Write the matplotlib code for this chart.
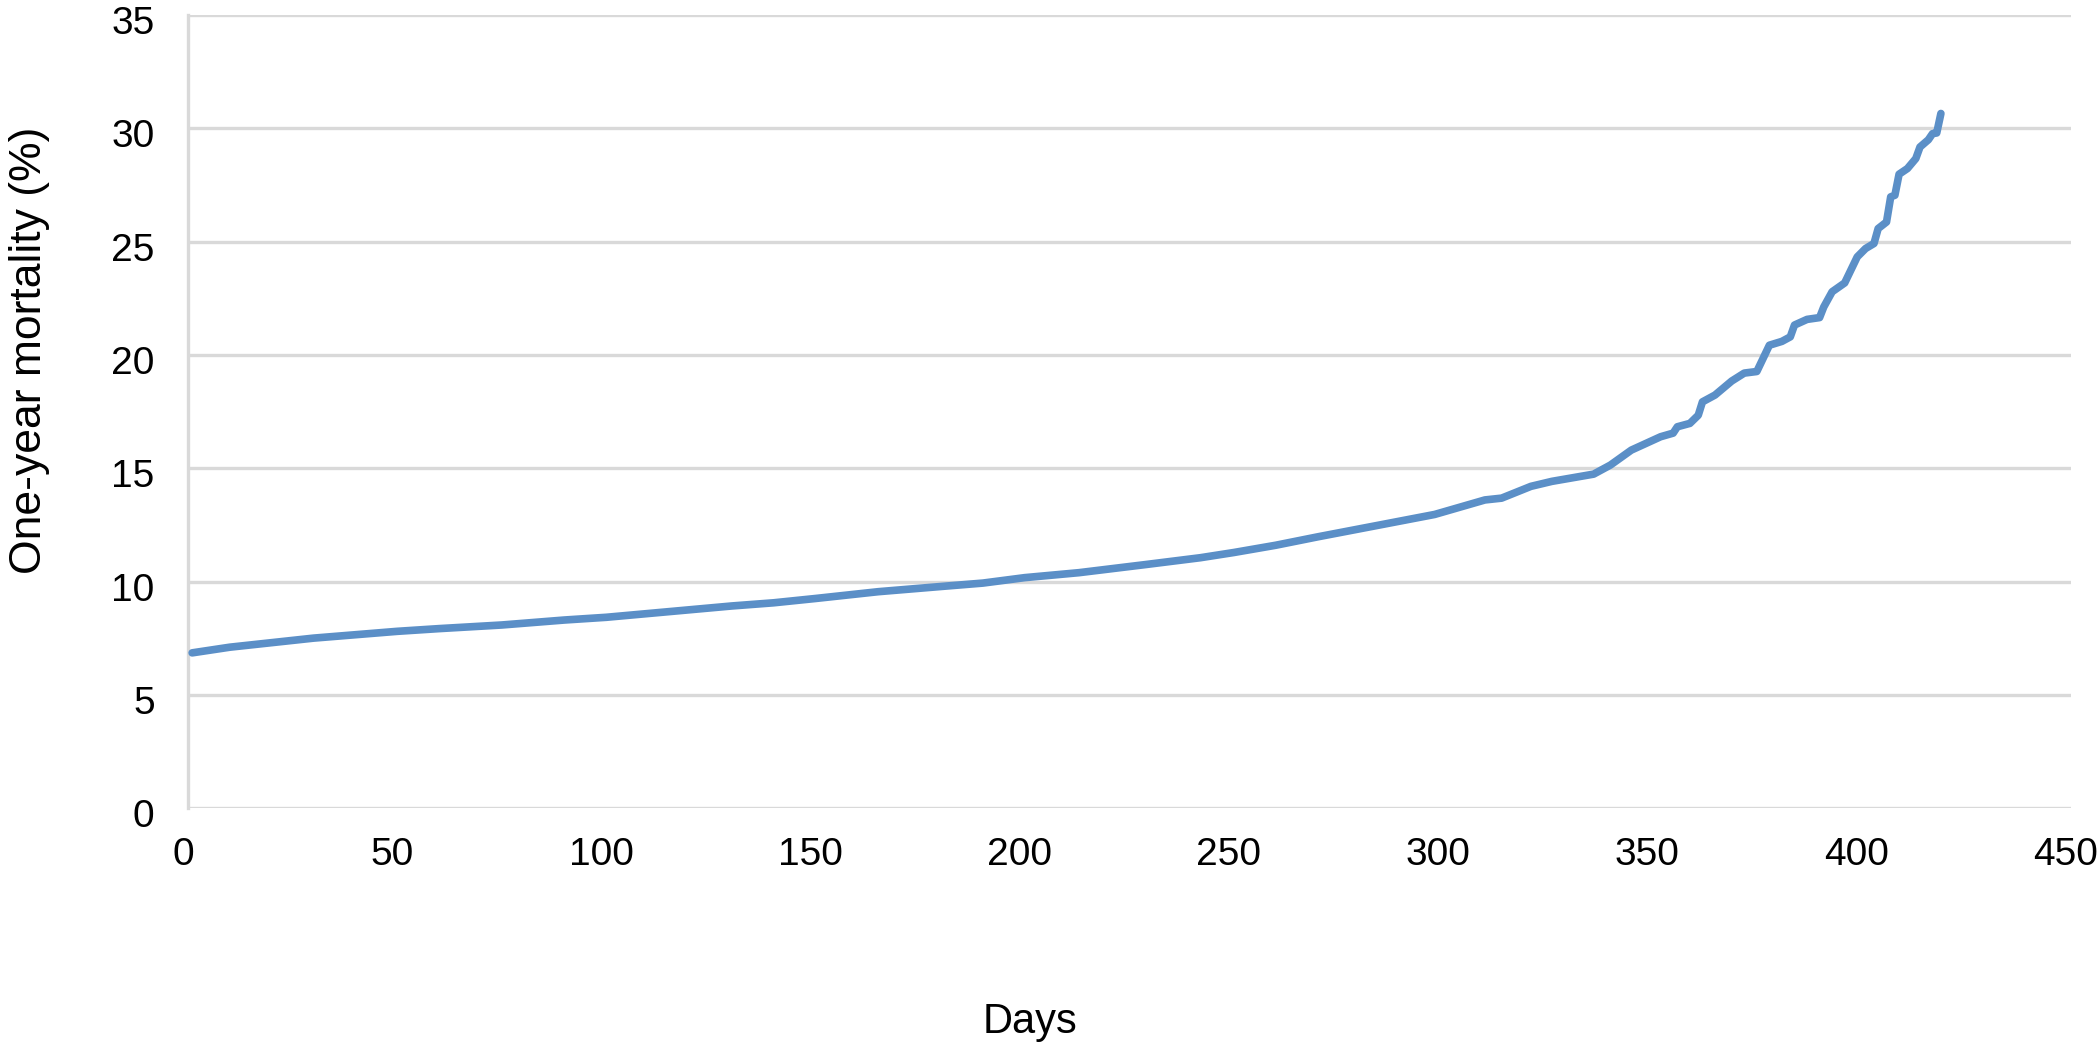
import numpy as np
import matplotlib.pyplot as plt
import matplotlib.transforms as mtransforms

plt.rcParams['font.family'] = ['Liberation Sans', 'DejaVu Sans']

# values
days = [1, 10, 20, 30, 40, 50, 60, 75, 90, 100, 115, 130, 140, 150, 165, 180,
        190, 200, 213, 229, 242, 250, 260, 270, 285, 298, 310, 314, 321, 326,
        336, 340, 345, 352, 355, 356, 359, 361, 362, 365, 369, 372, 375, 378,
        381, 383, 384, 387, 390, 391, 393, 396, 399, 401, 403, 404, 406, 407,
        408, 409, 411, 413, 414, 416, 417, 418, 419]
mortality = [6.85, 7.1, 7.3, 7.5, 7.65, 7.8, 7.92, 8.08, 8.3, 8.42, 8.67, 8.92,
             9.06, 9.25, 9.55, 9.78, 9.93, 10.17, 10.39, 10.75, 11.05, 11.28,
             11.6, 11.97, 12.5, 12.96, 13.6, 13.68, 14.2, 14.42, 14.74, 15.14,
             15.8, 16.39, 16.55, 16.83, 16.98, 17.34, 17.93, 18.23, 18.85, 19.2,
             19.27, 20.43, 20.6, 20.8, 21.32, 21.57, 21.65, 22.12, 22.79, 23.18,
             24.33, 24.7, 24.92, 25.58, 25.87, 26.98, 27.05, 27.98, 28.23, 28.67,
             29.18, 29.5, 29.77, 29.8, 30.66]

x_ticks = np.arange(0, 451, 50)
y_ticks = np.arange(0, 36, 5)

fig = plt.figure(figsize=(21, 10.46), dpi=100)
ax = fig.add_axes([0.0895, 0.2275, 0.8965, 0.758])

grid_col = '#d9d9d9'
for v in y_ticks:
    ax.axhline(v, color=grid_col, lw=2.4, zorder=1)

ax.plot(days, mortality, color='#5b8fc7', lw=5.5, solid_capstyle='round',
        solid_joinstyle='round', zorder=3)

ax.set_xlim(0, 450)
ax.set_ylim(0, 35)
ax.set_xticks(x_ticks)
ax.set_yticks(y_ticks)
ax.tick_params(axis='both', length=0, labelsize=28)
ax.tick_params(axis='y', pad=24)
ax.tick_params(axis='x', pad=21)

# tick labels are nudged a few pixels in the reference
yshift = mtransforms.ScaledTranslation(0, -5 / 100, fig.dpi_scale_trans)
for lbl in ax.get_yticklabels():
    lbl.set_transform(lbl.get_transform() + yshift)
xshift = mtransforms.ScaledTranslation(-5 / 100, 0, fig.dpi_scale_trans)
for lbl in ax.get_xticklabels():
    lbl.set_transform(lbl.get_transform() + xshift)

for s in ['top', 'right', 'bottom']:
    ax.spines[s].set_visible(False)
ax.spines['left'].set_color(grid_col)
ax.spines['left'].set_linewidth(2.4)

fig.text(1030 / 2100, 1 - 1022 / 1046, 'Days', fontsize=30, ha='center', va='center')
fig.text(30 / 2100, 1 - 350 / 1046, 'One-year mortality (%)', fontsize=32,
         rotation=90, ha='center', va='center')

fig.savefig('out.png', dpi=100)
